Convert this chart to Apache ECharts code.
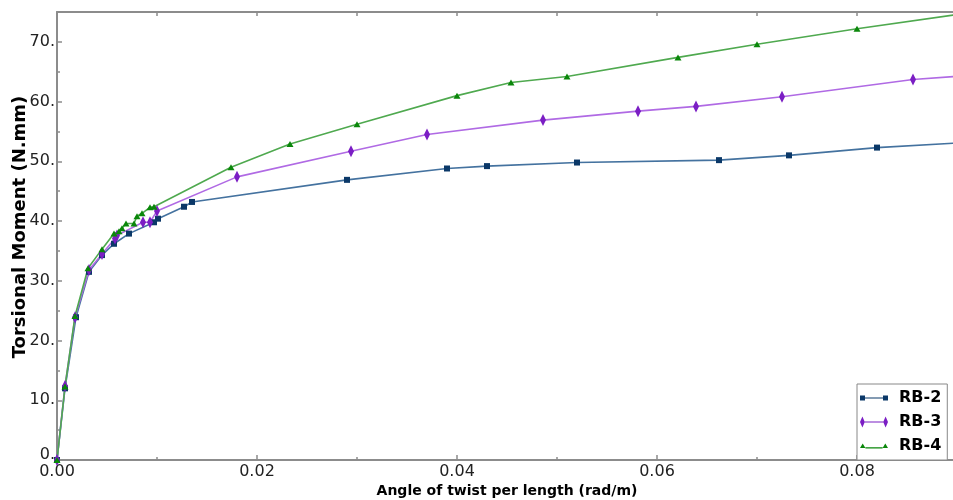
<!DOCTYPE html>
<html>
<head>
<meta charset="utf-8">
<script src="https://cdn.jsdelivr.net/npm/echarts@6/dist/echarts.min.js"></script>
<style>
  html, body { margin: 0; padding: 0; background: #fff; }
  #chart { width: 953px; height: 500px; }
</style>
</head>
<body>
<div id="chart"></div>
<script>
// Twist angle (rad/m) and torsional moment (N.mm) for each specimen
const twistRB2 = [0, 0.0008, 0.0019, 0.0032, 0.0045, 0.0057, 0.0072, 0.0097, 0.0101, 0.0127, 0.0135, 0.0290, 0.0390, 0.0430, 0.0520, 0.0662, 0.0732, 0.0820, 0.0905];
const momentRB2 = [0, 12.0, 23.9, 31.5, 34.3, 36.2, 37.9, 39.8, 40.4, 42.4, 43.2, 46.9, 48.8, 49.2, 49.8, 50.2, 51.0, 52.3, 53.1];

const twistRB3 = [0, 0.0008, 0.0018, 0.0032, 0.0045, 0.0058, 0.0060, 0.0086, 0.0093, 0.0100, 0.0180, 0.0294, 0.0370, 0.0486, 0.0581, 0.0639, 0.0725, 0.0856, 0.0905];
const momentRB3 = [0, 12.4, 23.9, 31.8, 34.5, 37.1, 37.6, 39.8, 39.8, 41.7, 47.4, 51.7, 54.5, 56.9, 58.4, 59.2, 60.8, 63.7, 64.3];

const twistRB4 = [0, 0.0008, 0.0018, 0.0031, 0.0045, 0.0057, 0.0062, 0.0065, 0.0069, 0.0077, 0.0080, 0.0085, 0.0093, 0.0097, 0.0174, 0.0233, 0.0300, 0.0400, 0.0454, 0.0510, 0.0621, 0.0700, 0.0800, 0.0905];
const momentRB4 = [0, 12.3, 24.1, 32.1, 35.3, 37.9, 38.3, 38.8, 39.6, 39.6, 40.8, 41.3, 42.3, 42.4, 49.0, 52.9, 56.2, 61.0, 63.2, 64.2, 67.4, 69.6, 72.2, 74.7];

const seriesNames = ['RB-2', 'RB-3', 'RB-4'];

const xTitle = 'Angle of twist per length (rad/m)';
const yTitle = 'Torsional Moment (N.mm)';

const pairs = (xs, ys) => xs.map((x, i) => [x, ys[i]]);

const FONT = 'DejaVu Sans';
const axisGray = '#8c8c8c';

// legend glyphs: marker - line - marker
const iconSquare = 'path://M0 4.5h5v5h-5zM5 6.4h18v1.2h-18zM23 4.5h5v5h-5z';
const iconDiamond = 'path://M0 7L2.4 1.5L4.8 7L2.4 12.5zM4.8 6.4h18.4v1.2h-18.4zM23.2 7L25.6 1.5L28 7L25.6 12.5z';
const iconTriangle = 'path://M0 10L2.7 5.5L5.4 10zM5.4 9.4h17.2v1.2h-17.2zM22.6 10L25.3 5.5L28 10z';

const chart = echarts.init(document.getElementById('chart'), null, { renderer: 'canvas' });

const labelStyle = { color: '#222', fontFamily: FONT, fontSize: 16 };

chart.setOption({
  backgroundColor: '#fff',
  animation: false,
  grid: { left: 57, right: -4, top: 12, bottom: 40, containLabel: false, outerBoundsMode: 'none' },
  legend: {
    orient: 'vertical',
    left: 857,
    top: 384,
    itemWidth: 28,
    itemHeight: 14,
    itemGap: 8,
    padding: [6, 6, 6, 3],
    borderColor: '#888',
    borderWidth: 1,
    backgroundColor: '#fff',
    textStyle: { fontFamily: FONT, fontWeight: 'bold', fontSize: 16, color: '#000', padding: [0, 0, 0, 6] },
    data: [
      { name: seriesNames[0], icon: iconSquare },
      { name: seriesNames[1], icon: iconDiamond },
      { name: seriesNames[2], icon: iconTriangle }
    ]
  },
  xAxis: [
    {
      type: 'value', position: 'bottom', min: 0, max: 0.09, interval: 0.02,
      name: xTitle, nameLocation: 'middle', nameGap: 24, nameMoveOverlap: false,
      nameTextStyle: { fontFamily: FONT, fontWeight: 'bold', fontSize: 14, color: '#000' },
      axisLine: { lineStyle: { color: axisGray, width: 2 } },
      axisTick: { inside: true, length: 5, lineStyle: { color: axisGray, width: 1.5 } },
      axisLabel: Object.assign({ margin: 4, formatter: v => (Math.abs(v / 0.02 - Math.round(v / 0.02)) < 1e-6 ? v.toFixed(2) : '') }, labelStyle),
      splitLine: { show: false }
    },
    {
      type: 'value', position: 'bottom', min: 0, max: 0.09, interval: 0.01,
      axisLine: { show: false },
      axisTick: { inside: true, length: 3, lineStyle: { color: axisGray, width: 1.5 } },
      axisLabel: { show: false },
      splitLine: { show: false }
    },
    {
      type: 'value', position: 'top', min: 0, max: 0.09, interval: 0.01,
      axisLine: { lineStyle: { color: axisGray, width: 2 } },
      axisTick: { inside: true, length: 4, lineStyle: { color: axisGray, width: 1.5 } },
      axisLabel: { show: false },
      splitLine: { show: false }
    }
  ],
  yAxis: [
    {
      type: 'value', position: 'left', min: 0, max: 75, interval: 10,
      name: yTitle, nameLocation: 'middle', nameGap: 28, nameMoveOverlap: false,
      nameTextStyle: { fontFamily: FONT, fontWeight: 'bold', fontSize: 18, color: '#000', padding: [0, 0, 0, 18] },
      axisLine: { lineStyle: { color: axisGray, width: 2 } },
      axisTick: { inside: true, length: 5, lineStyle: { color: axisGray, width: 1.5 } },
      axisLabel: Object.assign({
        margin: 2,
        formatter: v => (v === 0 ? '{z|0.}' : (v % 10 === 0 ? v + '.' : '')),
        rich: { z: { fontFamily: FONT, fontSize: 16, color: '#222', padding: [0, 0, 11, 0] } }
      }, labelStyle),
      splitLine: { show: false }
    },
    {
      type: 'value', position: 'left', min: 0, max: 75, interval: 5,
      axisLine: { show: false },
      axisTick: { inside: true, length: 3, lineStyle: { color: axisGray, width: 1.5 } },
      axisLabel: { show: false },
      splitLine: { show: false }
    }
  ],
  series: [
    {
      name: seriesNames[0], type: 'line', xAxisIndex: 0, yAxisIndex: 0,
      data: pairs(twistRB2, momentRB2),
      symbol: 'rect', symbolSize: 6,
      itemStyle: { color: '#0b3868' },
      lineStyle: { color: '#44729f', width: 1.6 },
      clip: true
    },
    {
      name: seriesNames[1], type: 'line', xAxisIndex: 0, yAxisIndex: 0,
      data: pairs(twistRB3, momentRB3),
      symbol: 'diamond', symbolSize: [6, 12],
      itemStyle: { color: '#7b1ec4' },
      lineStyle: { color: '#b06ae4', width: 1.6 },
      clip: true
    },
    {
      name: seriesNames[2], type: 'line', xAxisIndex: 0, yAxisIndex: 0,
      data: pairs(twistRB4, momentRB4),
      symbol: 'triangle', symbolSize: [7, 6],
      itemStyle: { color: '#0a870a' },
      lineStyle: { color: '#4fa94f', width: 1.6 },
      clip: true
    }
  ]
});
</script>
</body>
</html>
